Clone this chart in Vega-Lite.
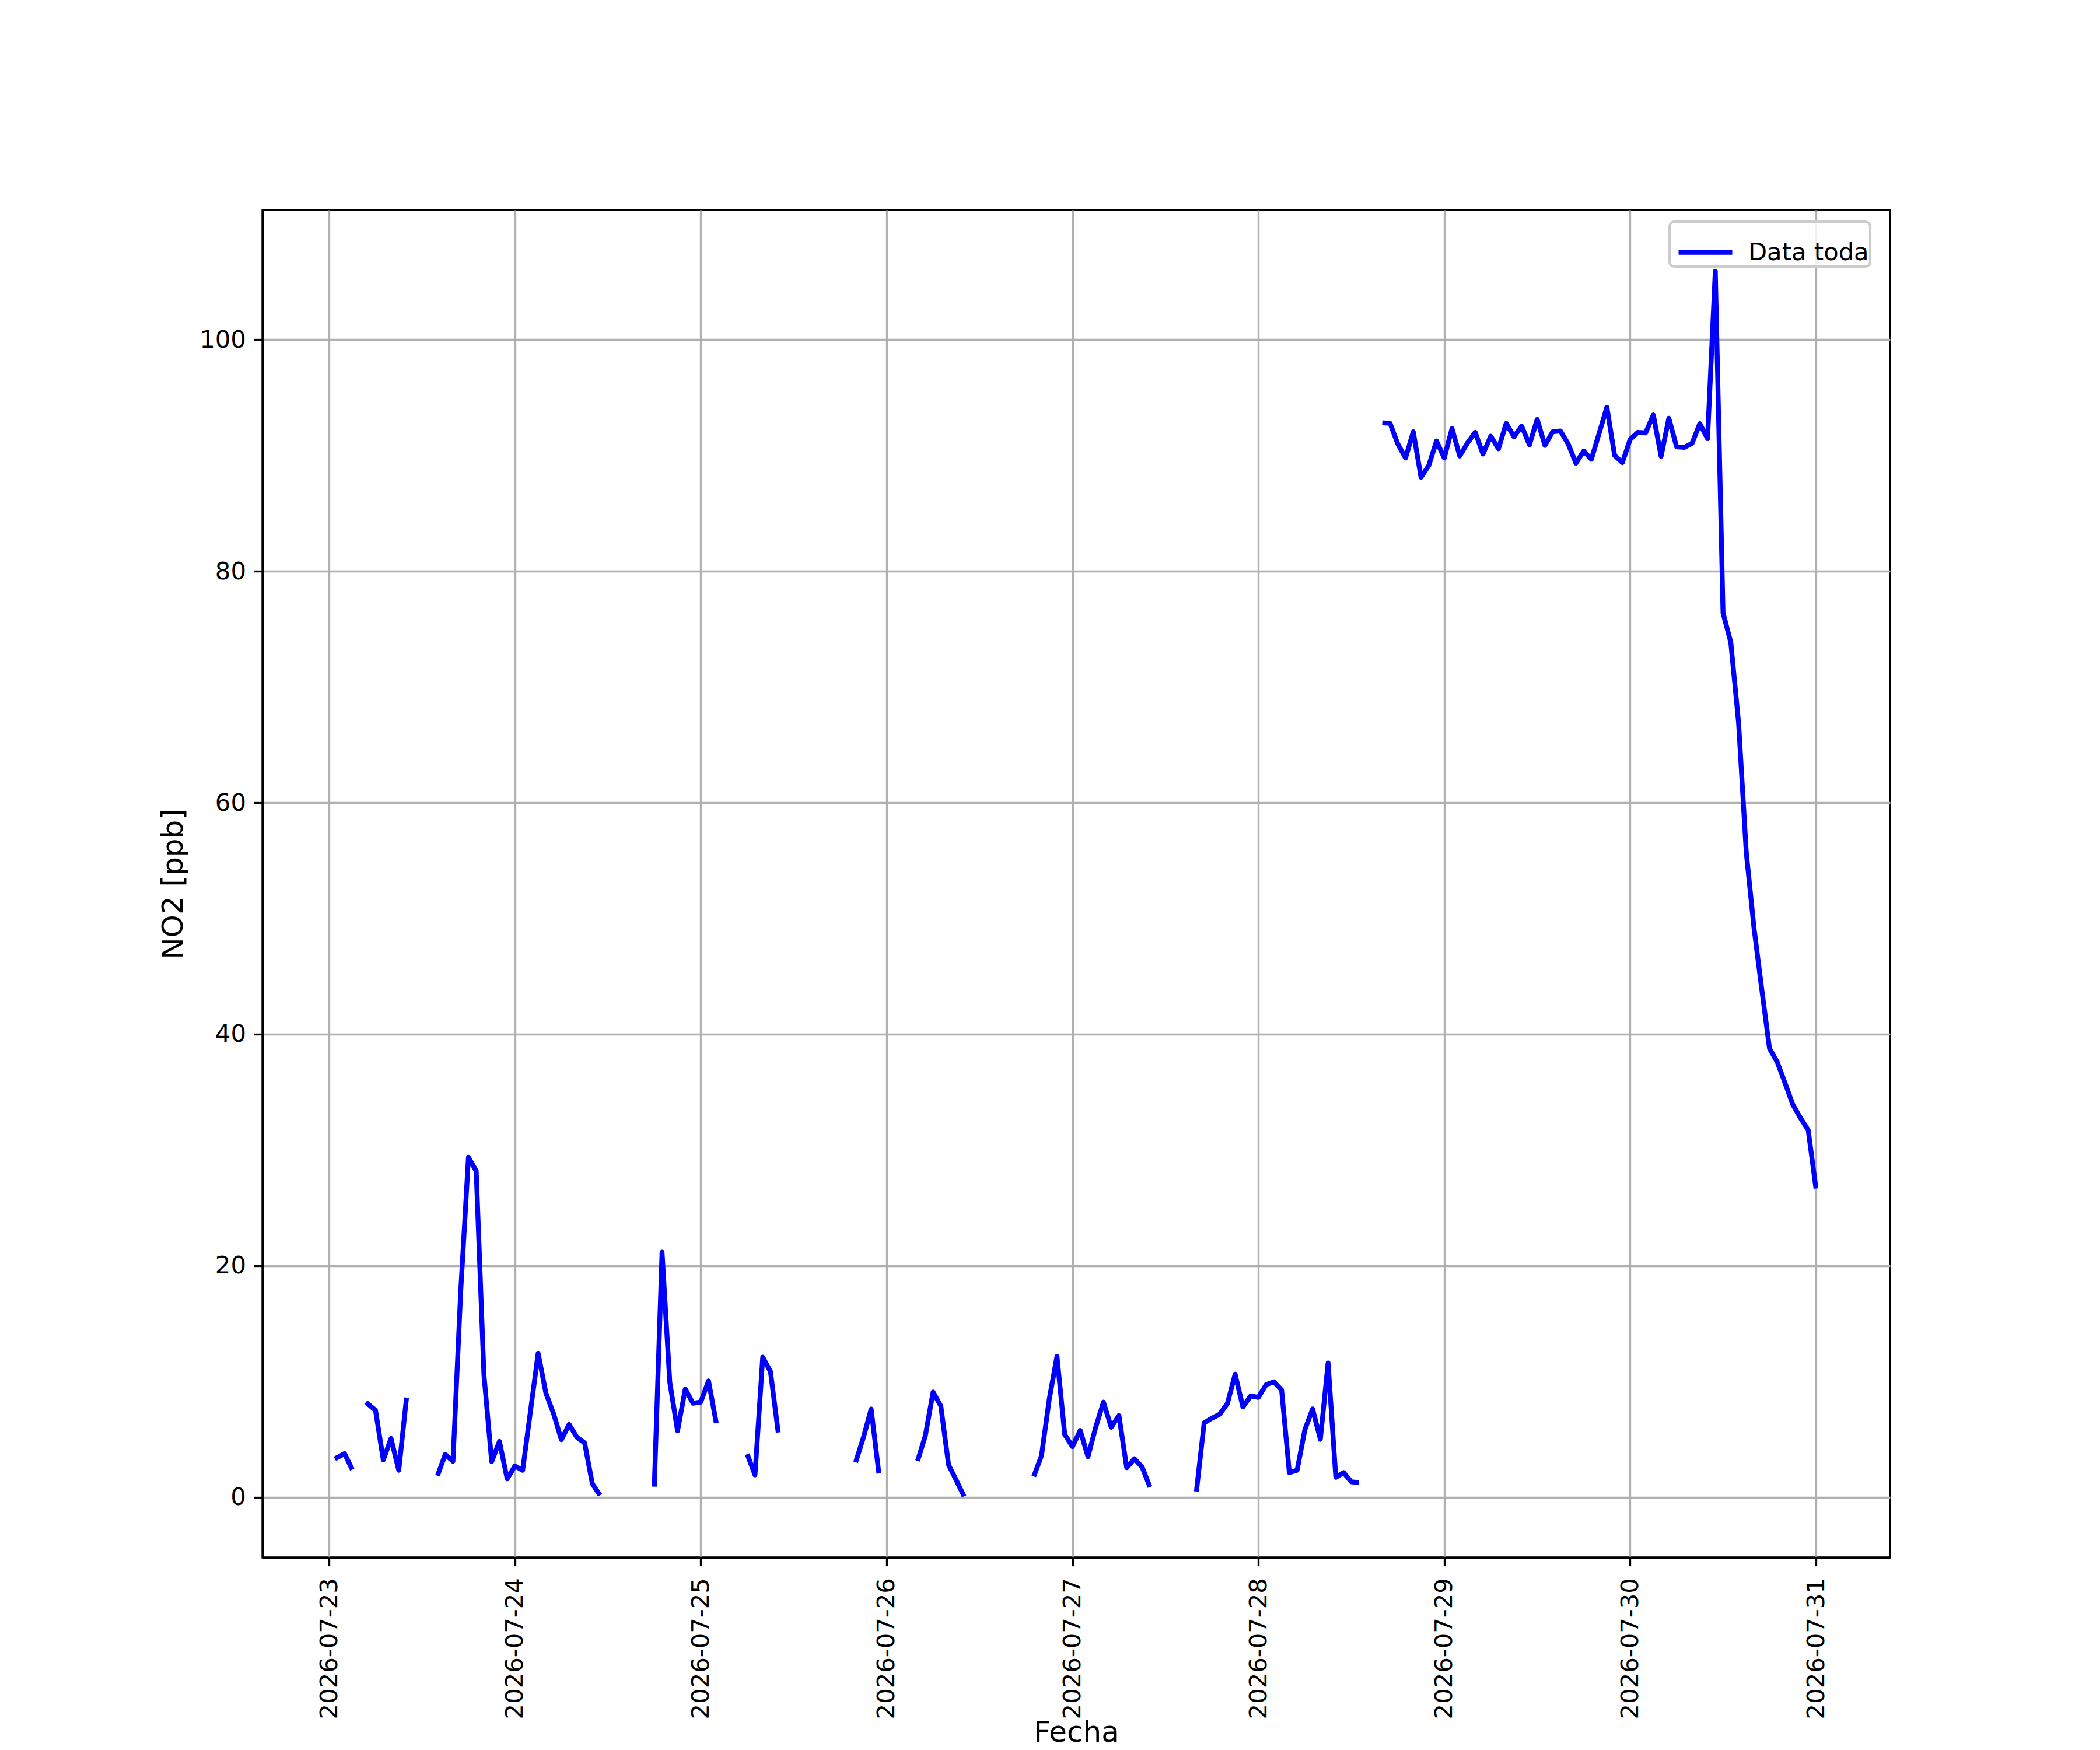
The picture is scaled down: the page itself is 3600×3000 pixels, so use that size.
{
  "$schema": "https://vega.github.io/schema/vega-lite/v6.json",
  "width": 2790,
  "height": 2310,
  "autosize": {"type": "none"},
  "padding": {"left": 450, "top": 360, "right": 360, "bottom": 330},
  "background": "white",
  "config": {
    "font": "DejaVu Sans",
    "view": {"stroke": "black", "strokeWidth": 3.33},
    "axis": {
      "labelFontSize": 41.7,
      "labelColor": "black",
      "labelLimit": 500,
      "tickColor": "black",
      "tickSize": 14.6,
      "tickWidth": 3.33,
      "domainColor": "black",
      "domainWidth": 3.33,
      "gridColor": "#b0b0b0",
      "gridWidth": 3.33,
      "titleFontSize": 50,
      "titleFontWeight": "normal",
      "titleColor": "black",
      "labelFlush": false,
      "labelOverlap": false
    }
  },
  "data": {
    "values": [
      {"fecha": "2026-07-23T00:45:00Z", "no2": 3.32, "seg": 1},
      {"fecha": "2026-07-23T02:00:00Z", "no2": 3.77, "seg": 1},
      {"fecha": "2026-07-23T03:00:00Z", "no2": 2.39, "seg": 1},
      {"fecha": "2026-07-23T04:45:00Z", "no2": 8.21, "seg": 2},
      {"fecha": "2026-07-23T06:00:00Z", "no2": 7.51, "seg": 2},
      {"fecha": "2026-07-23T07:00:00Z", "no2": 3.22, "seg": 2},
      {"fecha": "2026-07-23T08:00:00Z", "no2": 5.08, "seg": 2},
      {"fecha": "2026-07-23T09:00:00Z", "no2": 2.33, "seg": 2},
      {"fecha": "2026-07-23T10:00:00Z", "no2": 8.61, "seg": 2},
      {"fecha": "2026-07-23T14:00:00Z", "no2": 1.86, "seg": 3},
      {"fecha": "2026-07-23T15:00:00Z", "no2": 3.7, "seg": 3},
      {"fecha": "2026-07-23T16:00:00Z", "no2": 3.11, "seg": 3},
      {"fecha": "2026-07-23T17:00:00Z", "no2": 17.8, "seg": 3},
      {"fecha": "2026-07-23T18:00:00Z", "no2": 29.37, "seg": 3},
      {"fecha": "2026-07-23T19:00:00Z", "no2": 28.19, "seg": 3},
      {"fecha": "2026-07-23T20:00:00Z", "no2": 10.58, "seg": 3},
      {"fecha": "2026-07-23T21:00:00Z", "no2": 3.07, "seg": 3},
      {"fecha": "2026-07-23T22:00:00Z", "no2": 4.83, "seg": 3},
      {"fecha": "2026-07-23T23:00:00Z", "no2": 1.59, "seg": 3},
      {"fecha": "2026-07-24T00:00:00Z", "no2": 2.71, "seg": 3},
      {"fecha": "2026-07-24T01:00:00Z", "no2": 2.33, "seg": 3},
      {"fecha": "2026-07-24T02:00:00Z", "no2": 7.4, "seg": 3},
      {"fecha": "2026-07-24T03:00:00Z", "no2": 12.44, "seg": 3},
      {"fecha": "2026-07-24T04:00:00Z", "no2": 9.0, "seg": 3},
      {"fecha": "2026-07-24T05:00:00Z", "no2": 7.2, "seg": 3},
      {"fecha": "2026-07-24T06:00:00Z", "no2": 4.97, "seg": 3},
      {"fecha": "2026-07-24T07:00:00Z", "no2": 6.29, "seg": 3},
      {"fecha": "2026-07-24T08:00:00Z", "no2": 5.19, "seg": 3},
      {"fecha": "2026-07-24T09:00:00Z", "no2": 4.7, "seg": 3},
      {"fecha": "2026-07-24T10:00:00Z", "no2": 1.16, "seg": 3},
      {"fecha": "2026-07-24T11:00:00Z", "no2": 0.17, "seg": 3},
      {"fecha": "2026-07-24T18:00:00Z", "no2": 0.92, "seg": 4},
      {"fecha": "2026-07-24T19:00:00Z", "no2": 21.17, "seg": 4},
      {"fecha": "2026-07-24T20:00:00Z", "no2": 9.93, "seg": 4},
      {"fecha": "2026-07-24T21:00:00Z", "no2": 5.74, "seg": 4},
      {"fecha": "2026-07-24T22:00:00Z", "no2": 9.35, "seg": 4},
      {"fecha": "2026-07-24T23:00:00Z", "no2": 8.12, "seg": 4},
      {"fecha": "2026-07-25T00:00:00Z", "no2": 8.22, "seg": 4},
      {"fecha": "2026-07-25T01:00:00Z", "no2": 10.05, "seg": 4},
      {"fecha": "2026-07-25T02:00:00Z", "no2": 6.41, "seg": 4},
      {"fecha": "2026-07-25T06:00:00Z", "no2": 3.72, "seg": 5},
      {"fecha": "2026-07-25T07:00:00Z", "no2": 1.93, "seg": 5},
      {"fecha": "2026-07-25T08:00:00Z", "no2": 12.1, "seg": 5},
      {"fecha": "2026-07-25T09:00:00Z", "no2": 10.86, "seg": 5},
      {"fecha": "2026-07-25T10:00:00Z", "no2": 5.6, "seg": 5},
      {"fecha": "2026-07-25T20:00:00Z", "no2": 3.02, "seg": 6},
      {"fecha": "2026-07-25T21:00:00Z", "no2": 5.15, "seg": 6},
      {"fecha": "2026-07-25T22:00:00Z", "no2": 7.62, "seg": 6},
      {"fecha": "2026-07-25T23:00:00Z", "no2": 2.05, "seg": 6},
      {"fecha": "2026-07-26T04:00:00Z", "no2": 3.14, "seg": 7},
      {"fecha": "2026-07-26T05:00:00Z", "no2": 5.32, "seg": 7},
      {"fecha": "2026-07-26T06:00:00Z", "no2": 9.09, "seg": 7},
      {"fecha": "2026-07-26T07:00:00Z", "no2": 7.87, "seg": 7},
      {"fecha": "2026-07-26T08:00:00Z", "no2": 2.8, "seg": 7},
      {"fecha": "2026-07-26T09:00:00Z", "no2": 1.46, "seg": 7},
      {"fecha": "2026-07-26T10:00:00Z", "no2": 0.08, "seg": 7},
      {"fecha": "2026-07-26T19:00:00Z", "no2": 1.8, "seg": 8},
      {"fecha": "2026-07-26T20:00:00Z", "no2": 3.6, "seg": 8},
      {"fecha": "2026-07-26T21:00:00Z", "no2": 8.47, "seg": 8},
      {"fecha": "2026-07-26T22:00:00Z", "no2": 12.17, "seg": 8},
      {"fecha": "2026-07-26T23:00:00Z", "no2": 5.42, "seg": 8},
      {"fecha": "2026-07-27T00:00:00Z", "no2": 4.38, "seg": 8},
      {"fecha": "2026-07-27T01:00:00Z", "no2": 5.77, "seg": 8},
      {"fecha": "2026-07-27T02:00:00Z", "no2": 3.5, "seg": 8},
      {"fecha": "2026-07-27T03:00:00Z", "no2": 6.05, "seg": 8},
      {"fecha": "2026-07-27T04:00:00Z", "no2": 8.22, "seg": 8},
      {"fecha": "2026-07-27T05:00:00Z", "no2": 6.05, "seg": 8},
      {"fecha": "2026-07-27T06:00:00Z", "no2": 7.05, "seg": 8},
      {"fecha": "2026-07-27T07:00:00Z", "no2": 2.55, "seg": 8},
      {"fecha": "2026-07-27T08:00:00Z", "no2": 3.33, "seg": 8},
      {"fecha": "2026-07-27T09:00:00Z", "no2": 2.6, "seg": 8},
      {"fecha": "2026-07-27T10:00:00Z", "no2": 0.88, "seg": 8},
      {"fecha": "2026-07-27T16:00:00Z", "no2": 0.5, "seg": 9},
      {"fecha": "2026-07-27T17:00:00Z", "no2": 6.43, "seg": 9},
      {"fecha": "2026-07-27T18:00:00Z", "no2": 6.83, "seg": 9},
      {"fecha": "2026-07-27T19:00:00Z", "no2": 7.17, "seg": 9},
      {"fecha": "2026-07-27T20:00:00Z", "no2": 8.1, "seg": 9},
      {"fecha": "2026-07-27T21:00:00Z", "no2": 10.63, "seg": 9},
      {"fecha": "2026-07-27T22:00:00Z", "no2": 7.8, "seg": 9},
      {"fecha": "2026-07-27T23:00:00Z", "no2": 8.75, "seg": 9},
      {"fecha": "2026-07-28T00:00:00Z", "no2": 8.63, "seg": 9},
      {"fecha": "2026-07-28T01:00:00Z", "no2": 9.72, "seg": 9},
      {"fecha": "2026-07-28T02:00:00Z", "no2": 9.97, "seg": 9},
      {"fecha": "2026-07-28T03:00:00Z", "no2": 9.27, "seg": 9},
      {"fecha": "2026-07-28T04:00:00Z", "no2": 2.13, "seg": 9},
      {"fecha": "2026-07-28T05:00:00Z", "no2": 2.33, "seg": 9},
      {"fecha": "2026-07-28T06:00:00Z", "no2": 5.83, "seg": 9},
      {"fecha": "2026-07-28T07:00:00Z", "no2": 7.63, "seg": 9},
      {"fecha": "2026-07-28T08:00:00Z", "no2": 5.0, "seg": 9},
      {"fecha": "2026-07-28T09:00:00Z", "no2": 11.6, "seg": 9},
      {"fecha": "2026-07-28T10:00:00Z", "no2": 1.72, "seg": 9},
      {"fecha": "2026-07-28T11:00:00Z", "no2": 2.13, "seg": 9},
      {"fecha": "2026-07-28T12:00:00Z", "no2": 1.33, "seg": 9},
      {"fecha": "2026-07-28T13:00:00Z", "no2": 1.27, "seg": 9},
      {"fecha": "2026-07-28T16:00:00Z", "no2": 92.83, "seg": 10},
      {"fecha": "2026-07-28T17:00:00Z", "no2": 92.78, "seg": 10},
      {"fecha": "2026-07-28T18:00:00Z", "no2": 91.0, "seg": 10},
      {"fecha": "2026-07-28T19:00:00Z", "no2": 89.78, "seg": 10},
      {"fecha": "2026-07-28T20:00:00Z", "no2": 92.05, "seg": 10},
      {"fecha": "2026-07-28T21:00:00Z", "no2": 88.12, "seg": 10},
      {"fecha": "2026-07-28T22:00:00Z", "no2": 89.13, "seg": 10},
      {"fecha": "2026-07-28T23:00:00Z", "no2": 91.25, "seg": 10},
      {"fecha": "2026-07-29T00:00:00Z", "no2": 89.78, "seg": 10},
      {"fecha": "2026-07-29T01:00:00Z", "no2": 92.33, "seg": 10},
      {"fecha": "2026-07-29T02:00:00Z", "no2": 89.95, "seg": 10},
      {"fecha": "2026-07-29T03:00:00Z", "no2": 91.08, "seg": 10},
      {"fecha": "2026-07-29T04:00:00Z", "no2": 92.0, "seg": 10},
      {"fecha": "2026-07-29T05:00:00Z", "no2": 90.12, "seg": 10},
      {"fecha": "2026-07-29T06:00:00Z", "no2": 91.67, "seg": 10},
      {"fecha": "2026-07-29T07:00:00Z", "no2": 90.58, "seg": 10},
      {"fecha": "2026-07-29T08:00:00Z", "no2": 92.78, "seg": 10},
      {"fecha": "2026-07-29T09:00:00Z", "no2": 91.62, "seg": 10},
      {"fecha": "2026-07-29T10:00:00Z", "no2": 92.53, "seg": 10},
      {"fecha": "2026-07-29T11:00:00Z", "no2": 90.92, "seg": 10},
      {"fecha": "2026-07-29T12:00:00Z", "no2": 93.12, "seg": 10},
      {"fecha": "2026-07-29T13:00:00Z", "no2": 90.87, "seg": 10},
      {"fecha": "2026-07-29T14:00:00Z", "no2": 92.05, "seg": 10},
      {"fecha": "2026-07-29T15:00:00Z", "no2": 92.12, "seg": 10},
      {"fecha": "2026-07-29T16:00:00Z", "no2": 91.0, "seg": 10},
      {"fecha": "2026-07-29T17:00:00Z", "no2": 89.33, "seg": 10},
      {"fecha": "2026-07-29T18:00:00Z", "no2": 90.38, "seg": 10},
      {"fecha": "2026-07-29T19:00:00Z", "no2": 89.67, "seg": 10},
      {"fecha": "2026-07-29T20:00:00Z", "no2": 91.92, "seg": 10},
      {"fecha": "2026-07-29T21:00:00Z", "no2": 94.17, "seg": 10},
      {"fecha": "2026-07-29T22:00:00Z", "no2": 90.0, "seg": 10},
      {"fecha": "2026-07-29T23:00:00Z", "no2": 89.38, "seg": 10},
      {"fecha": "2026-07-30T00:00:00Z", "no2": 91.38, "seg": 10},
      {"fecha": "2026-07-30T01:00:00Z", "no2": 92.0, "seg": 10},
      {"fecha": "2026-07-30T02:00:00Z", "no2": 91.95, "seg": 10},
      {"fecha": "2026-07-30T03:00:00Z", "no2": 93.5, "seg": 10},
      {"fecha": "2026-07-30T04:00:00Z", "no2": 89.92, "seg": 10},
      {"fecha": "2026-07-30T05:00:00Z", "no2": 93.22, "seg": 10},
      {"fecha": "2026-07-30T06:00:00Z", "no2": 90.75, "seg": 10},
      {"fecha": "2026-07-30T07:00:00Z", "no2": 90.7, "seg": 10},
      {"fecha": "2026-07-30T08:00:00Z", "no2": 91.05, "seg": 10},
      {"fecha": "2026-07-30T09:00:00Z", "no2": 92.75, "seg": 10},
      {"fecha": "2026-07-30T10:00:00Z", "no2": 91.45, "seg": 10},
      {"fecha": "2026-07-30T11:00:00Z", "no2": 105.9, "seg": 10},
      {"fecha": "2026-07-30T12:00:00Z", "no2": 76.4, "seg": 10},
      {"fecha": "2026-07-30T13:00:00Z", "no2": 73.86, "seg": 10},
      {"fecha": "2026-07-30T14:00:00Z", "no2": 66.98, "seg": 10},
      {"fecha": "2026-07-30T15:00:00Z", "no2": 55.7, "seg": 10},
      {"fecha": "2026-07-30T16:00:00Z", "no2": 49.17, "seg": 10},
      {"fecha": "2026-07-30T17:00:00Z", "no2": 43.88, "seg": 10},
      {"fecha": "2026-07-30T18:00:00Z", "no2": 38.77, "seg": 10},
      {"fecha": "2026-07-30T19:00:00Z", "no2": 37.6, "seg": 10},
      {"fecha": "2026-07-30T20:00:00Z", "no2": 35.8, "seg": 10},
      {"fecha": "2026-07-30T21:00:00Z", "no2": 33.93, "seg": 10},
      {"fecha": "2026-07-30T22:00:00Z", "no2": 32.77, "seg": 10},
      {"fecha": "2026-07-30T23:00:00Z", "no2": 31.71, "seg": 10},
      {"fecha": "2026-07-31T00:00:00Z", "no2": 26.67, "seg": 10}
    ]
  },
  "mark": {"type": "line", "strokeWidth": 8.33, "strokeJoin": "round", "strokeCap": "butt"},
  "encoding": {
    "x": {
      "field": "fecha",
      "type": "temporal",
      "scale": {
        "type": "utc",
        "domain": [
          {"year": 2026, "month": 7, "date": 22, "hours": 15, "minutes": 24, "utc": true},
          {"year": 2026, "month": 7, "date": 31, "hours": 9, "minutes": 34, "utc": true}
        ]
      },
      "axis": {
        "title": "Fecha",
        "labelExpr": "utcFormat(datum.value, '%Y-%m-%d')",
        "tickCount": {"interval": "day", "step": 1},
        "labelAngle": 270,
        "labelPadding": 20,
        "titleY": 315,
        "titleBaseline": "alphabetic"
      }
    },
    "y": {
      "field": "no2",
      "type": "quantitative",
      "scale": {"domain": [-5.2, 111.2], "nice": false, "zero": false},
      "axis": {
        "title": "NO2 [ppb]",
        "values": [0, 20, 40, 60, 80, 100],
        "labelPadding": 14,
        "titleX": -138,
        "titleBaseline": "alphabetic"
      }
    },
    "detail": {"field": "seg", "type": "nominal"},
    "color": {
      "datum": "Data toda",
      "type": "nominal",
      "scale": {"range": ["#0000ff"]},
      "legend": {
        "title": null,
        "orient": "none",
        "legendX": 2412,
        "legendY": 20,
        "padding": 2,
        "strokeColor": "#cccccc",
        "cornerRadius": 8,
        "fillColor": "rgba(255,255,255,0.8)",
        "symbolType": "M-1,0H1",
        "symbolSize": 8464,
        "symbolOffset": 9,
        "symbolStrokeWidth": 8.33,
        "labelFontSize": 41.7,
        "labelColor": "black",
        "labelOffset": 23,
        "labelLimit": 600,
        "encode": {
          "legend": {"update": {"strokeWidth": {"value": 4}}}
        }
      }
    }
  }
}
